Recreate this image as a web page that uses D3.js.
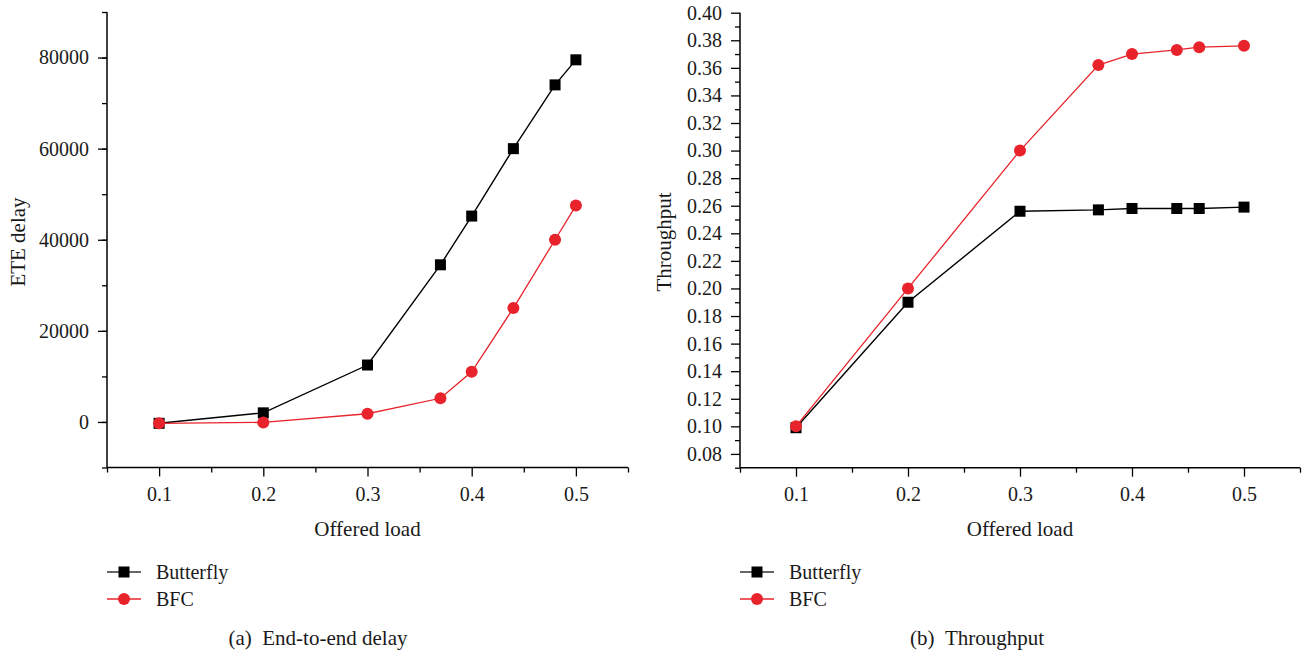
<!DOCTYPE html>
<html>
<head>
<meta charset="utf-8">
<script src="https://cdn.jsdelivr.net/npm/d3@7"></script>
<style>
  html, body { margin: 0; padding: 0; background: #fff; }
  svg { display: block; }
  text { font-family: "Liberation Serif", "Times New Roman", serif; fill: #1a1a1a; }
</style>
</head>
<body>
<svg id="chart" width="1304" height="652"></svg>
<script>
// ---------- data ----------
const seriesNames = ["Butterfly", "BFC"];
const loadA = [0.1, 0.2, 0.3, 0.37, 0.4, 0.44, 0.48, 0.5];
const delayButterfly = [-300, 2000, 12500, 34500, 45200, 60000, 74000, 79500];
const delayBFC = [-300, -100, 1800, 5200, 11000, 25000, 40000, 47500];
const loadB = [0.1, 0.2, 0.3, 0.37, 0.4, 0.44, 0.46, 0.5];
const thrButterfly = [0.099, 0.19, 0.256, 0.257, 0.258, 0.258, 0.258, 0.259];
const thrBFC = [0.1, 0.2, 0.3, 0.362, 0.37, 0.373, 0.375, 0.376];
const xTicks = [0.1, 0.2, 0.3, 0.4, 0.5];
const delayTicks = [0, 20000, 40000, 60000, 80000];
const thrTicks = [0.08, 0.10, 0.12, 0.14, 0.16, 0.18, 0.20, 0.22, 0.24, 0.26, 0.28, 0.30, 0.32, 0.34, 0.36, 0.38, 0.40];
const captions = ["(a)\u2002End-to-end delay", "(b)\u2002Throughput"];

const RED = "#e8232b";
const svg = d3.select("#chart");

function panel(cfg) {
  const g = svg.append("g");
  const x = d3.scaleLinear().domain([0.05, 0.55]).range([cfg.left, cfg.right]);
  const y = d3.scaleLinear().domain(cfg.yDomain).range([cfg.bottom, cfg.top]);

  const xMinor = d3.range(0.05, 0.551, 0.1);
  const xAxis = d3.axisBottom(x).tickValues(xTicks).tickSize(9).tickPadding(10)
    .tickFormat(d3.format(".1f"));
  const xMinorAxis = d3.axisBottom(x).tickValues(xMinor).tickSize(5).tickFormat("");
  const yAxis = d3.axisLeft(y).tickValues(cfg.yTicks).tickSize(9).tickPadding(9)
    .tickFormat(cfg.yFormat);
  const yMinorAxis = d3.axisLeft(y).tickValues(cfg.yMinor).tickSize(5).tickFormat("");

  function style(sel) {
    sel.attr("font-family", null);
    sel.selectAll(".tick line").attr("stroke", "#000").attr("stroke-width", 1.3);
    sel.selectAll(".tick text").style("font-size", "20px")
      .style("font-family", "'Liberation Serif', serif").attr("fill", "#1a1a1a");
  }
  g.append("g").attr("transform", `translate(0,${cfg.bottom})`).call(xMinorAxis).call(style);
  g.append("g").attr("transform", `translate(${cfg.left},0)`).call(yMinorAxis).call(style);
  g.append("g").attr("transform", `translate(0,${cfg.bottom})`).call(xAxis).call(style);
  g.append("g").attr("transform", `translate(${cfg.left},0)`).call(yAxis).call(style);
  g.selectAll(".domain").remove();
  g.append("line").attr("x1", cfg.left).attr("x2", cfg.right)
    .attr("y1", cfg.bottom).attr("y2", cfg.bottom).attr("stroke", "#000").attr("stroke-width", 1.5);
  g.append("line").attr("x1", cfg.left).attr("x2", cfg.left)
    .attr("y1", cfg.top).attr("y2", cfg.bottom).attr("stroke", "#000").attr("stroke-width", 1.5);

  const line = d3.line().x(d => x(d[0])).y(d => y(d[1]));
  const dataB = cfg.xs.map((v, i) => [v, cfg.butterfly[i]]);
  const dataR = cfg.xs.map((v, i) => [v, cfg.bfc[i]]);

  g.append("path").datum(dataB).attr("d", line).attr("fill", "none")
    .attr("stroke", "#000").attr("stroke-width", 1.4);
  g.selectAll(".sq").data(dataB).enter().append("rect")
    .attr("x", d => x(d[0]) - 5.5).attr("y", d => y(d[1]) - 5.5)
    .attr("width", 11).attr("height", 11).attr("fill", "#000");
  g.append("path").datum(dataR).attr("d", line).attr("fill", "none")
    .attr("stroke", RED).attr("stroke-width", 1.3);
  g.selectAll(".ci").data(dataR).enter().append("circle")
    .attr("cx", d => x(d[0])).attr("cy", d => y(d[1])).attr("r", 6).attr("fill", RED);

  g.append("text").attr("x", (cfg.left + cfg.right) / 2).attr("y", 536)
    .attr("text-anchor", "middle").style("font-size", "21px").text("Offered load");
  g.append("text").attr("transform", `translate(${cfg.yTitleX},${242}) rotate(-90)`)
    .attr("text-anchor", "middle").style("font-size", "21px").text(cfg.yTitle);

  const leg = [
    {name: seriesNames[0], color: "#333", mark: "sq", y: 572},
    {name: seriesNames[1], color: RED, mark: "ci", y: 599}
  ];
  leg.forEach(l => {
    g.append("line").attr("x1", cfg.left).attr("x2", cfg.left + 34)
      .attr("y1", l.y).attr("y2", l.y).attr("stroke", l.color).attr("stroke-width", 1.5);
    const cx = cfg.left + 17;
    if (l.mark === "sq") {
      g.append("rect").attr("x", cx - 5.5).attr("y", l.y - 5.5).attr("width", 11).attr("height", 11).attr("fill", "#000");
    } else {
      g.append("circle").attr("cx", cx).attr("cy", l.y).attr("r", 6).attr("fill", RED);
    }
    g.append("text").attr("x", cfg.left + 49).attr("y", l.y + 6.5)
      .style("font-size", "20px").text(l.name);
  });

  g.append("text").attr("x", cfg.capX).attr("y", 645).attr("text-anchor", "middle")
    .style("font-size", "21px").text(cfg.caption);
}

panel({
  left: 107, right: 628, top: 12, bottom: 467.5,
  yDomain: [-10000, 90000], yTicks: delayTicks,
  yMinor: d3.range(-10000, 90001, 10000),
  yFormat: d3.format("d"),
  xs: loadA, butterfly: delayButterfly, bfc: delayBFC,
  yTitle: "ETE delay", yTitleX: 25, caption: captions[0], capX: 318
});
panel({
  left: 740, right: 1300, top: 12.7, bottom: 467.7,
  yDomain: [0.07, 0.40], yTicks: thrTicks,
  yMinor: d3.range(7, 40, 2).map(v => v / 100),
  yFormat: d3.format(".2f"),
  xs: loadB, butterfly: thrButterfly, bfc: thrBFC,
  yTitle: "Throughput", yTitleX: 671, caption: captions[1], capX: 977
});
</script>
</body>
</html>
